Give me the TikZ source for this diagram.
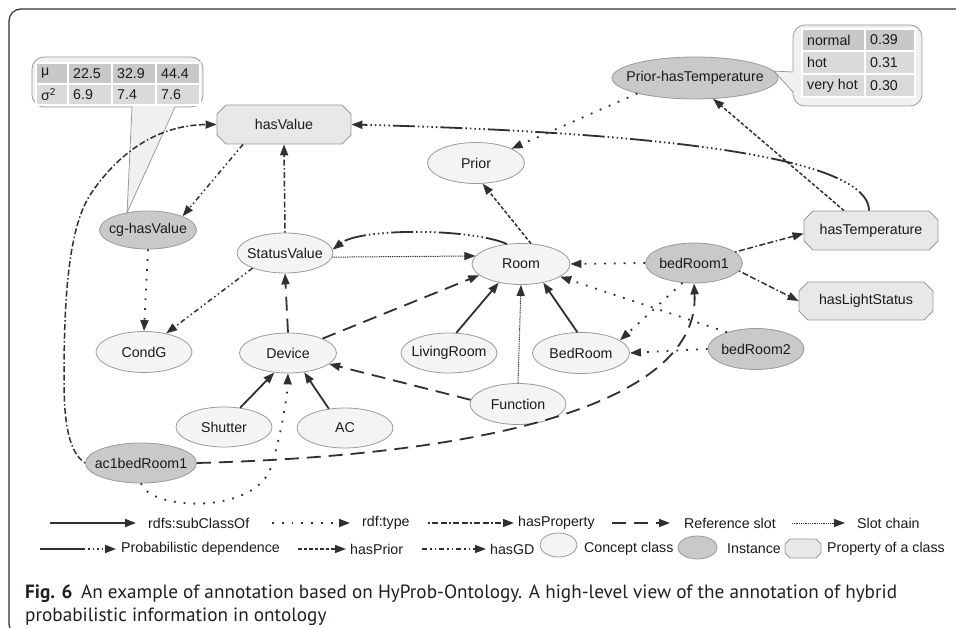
\documentclass[tikz,border=0pt]{standalone}
\usepackage{fontspec}
\setmainfont{Liberation Sans}
\newfontfamily\capfont{PT Sans}
\usetikzlibrary{arrows.meta,shapes.geometric,calc}

\definecolor{concfill}{HTML}{F4F4F4}
\definecolor{instfill}{HTML}{C9C9C9}
\definecolor{propfill}{HTML}{E8E8E8}
\definecolor{nodeborder}{HTML}{9A9A9A}
\definecolor{arrcol}{HTML}{303030}
\definecolor{txtcol}{HTML}{1A1A1A}
\definecolor{tabdark}{HTML}{C8C8C8}
\definecolor{tablight}{HTML}{DADADA}
\definecolor{callfill}{HTML}{F0F0F0}
\definecolor{capcol}{HTML}{231F20}

\newcommand{\zw}[1]{\makebox[0pt]{#1}}
% octagon: name, x, y, width, height, chamfer, text
\newcommand{\octa}[7]{%
  \filldraw[fill=propfill, draw=nodeborder, line width=0.8pt]
    ({#2-#4/2+#6},{#3-#5/2}) -- ({#2+#4/2-#6},{#3-#5/2}) -- ({#2+#4/2},{#3-#5/2+#6})
    -- ({#2+#4/2},{#3+#5/2-#6}) -- ({#2+#4/2-#6},{#3+#5/2}) -- ({#2-#4/2+#6},{#3+#5/2})
    -- ({#2-#4/2},{#3+#5/2-#6}) -- ({#2-#4/2},{#3-#5/2+#6}) -- cycle;
  \node[base, draw=none, rectangle, minimum width=#4pt, minimum height=#5pt] (#1) at (#2,#3) {\zw{#7}};}

\tikzset{
  base/.style={inner sep=0pt, draw=nodeborder, line width=0.8pt, text=txtcol, font=\fontsize{14.2}{16}\selectfont},
  concept/.style={base, ellipse, fill=concfill, minimum width=96pt, minimum height=40pt},
  instance/.style={base, ellipse, fill=instfill, minimum width=96pt, minimum height=40pt},
  tipend/.style={-{Triangle[length=11pt,width=8pt]}},
  edge/.style={tipend, draw=arrcol, fill=none, color=arrcol, line cap=butt},
  subcls/.style={edge, line width=1.8pt},
  rdftype/.style={edge, line width=1.8pt, dash pattern=on 1.8pt off 8pt},
  hasprop/.style={edge, line width=1.5pt, dash pattern=on 1.5pt off 2.5pt on 6pt off 2.5pt on 6pt off 2.5pt},
  refslot/.style={edge, line width=1.8pt, dash pattern=on 14pt off 8pt},
  slotchain/.style={edge, line width=1pt, dash pattern=on 1pt off 0.8pt},
  probdep/.style={edge, line width=1.8pt, dash pattern=on 22pt off 3pt on 1.5pt off 3pt on 1.5pt off 3pt on 1.5pt off 3pt on 1.5pt off 3pt on 1.5pt off 3pt},
  hasprior/.style={edge, line width=1.5pt, dash pattern=on 3.5pt off 2pt},
  hasgd/.style={edge, line width=1.5pt, dash pattern=on 5pt off 3pt on 1.5pt off 3pt on 1.5pt off 3pt},
  legtxt/.style={anchor=west, inner sep=0pt, text=txtcol, font=\fontsize{14.2}{16}\selectfont},
  callout/.style={fill=callfill, draw=nodeborder, line width=0.8pt},
  cell/.style={draw=white, line width=1.2pt},
  celltxt/.style={anchor=west, inner sep=0pt, text=txtcol, font=\fontsize{14.2}{16}\selectfont},
}

\begin{document}
\begin{tikzpicture}[x=1pt,y=-1pt]
\useasboundingbox (0,0) rectangle (956,628);
\fill[white] (0,0) rectangle (956,628);

% outer frame
\draw[draw=arrcol, line width=1.2pt, rounded corners=12pt] (960,9) -- (9,9) -- (9,636) -- (60,636);

% ---------------- nodes ----------------
\octa{hasValue}{284}{124.5}{134}{39}{9}{hasValue}
\node[instance, minimum width=97pt, minimum height=38pt] (cgHasValue) at (148,230) {\zw{cg-hasValue}};
\node[concept] (StatusValue) at (285,253) {\zw{StatusValue}};
\node[concept, minimum width=97pt, minimum height=41pt] (Prior) at (476,163) {\zw{Prior}};
\node[instance, minimum width=166pt, minimum height=42pt] (PriorHasTemp) at (695,78) {\zw{Prior-hasTemperature}};
\octa{hasTemperature}{871}{230.5}{134}{39}{9}{hasTemperature}
\node[concept, minimum width=98pt, minimum height=41pt] (Room) at (521,264) {\zw{Room}};
\node[instance, minimum width=97pt] (bedRoom1) at (694,263) {\zw{bedRoom1}};
\octa{hasLightStatus}{866}{301}{134}{38}{9}{hasLightStatus}
\node[instance, minimum height=41pt] (bedRoom2) at (756,349) {\zw{bedRoom2}};
\node[concept, minimum width=97pt, minimum height=41pt] (BedRoom) at (581,353) {\zw{BedRoom}};
\node[concept] (LivingRoom) at (449,353) {\zw{LivingRoom}};
\node[concept, minimum height=41pt] (Function) at (518,404) {\zw{Function}};
\node[concept, minimum width=97pt] (Device) at (288,353) {\zw{Device}};
\node[concept, minimum height=41pt] (CondG) at (144,352) {\zw{CondG}};
\node[concept] (Shutter) at (224,427) {\zw{Shutter}};
\node[concept] (AC) at (345,428) {\zw{AC}};
\node[instance, minimum width=111pt] (ac1bedRoom1) at (141,463) {\zw{ac1bedRoom1}};

% ---------------- callouts ----------------
\filldraw[callout, rounded corners=12pt] (32,57) rectangle (203,107);
\fill[callfill] (132.6,106) -- (cgHasValue.140) -- (174.6,106) -- cycle;
\draw[nodeborder, line width=0.8pt] (132,107) -- (cgHasValue.140) -- (175,107);
\fill[tabdark] (36,63) rectangle (200,84);
\fill[tablight] (36,84) rectangle (200,105);
\draw[cell] (36,63) rectangle (200,105);
\draw[cell] (36,84) -- (200,84);
\draw[cell] (68,63) -- (68,105);
\draw[cell] (112,63) -- (112,105);
\draw[cell] (156,63) -- (156,105);
\node[celltxt] (m0) at (41,73.5) {μ};
\node[celltxt] (m1) at (73,73.5) {22.5};
\node[celltxt] (m2) at (117,73.5) {32.9};
\node[celltxt] (m3) at (161,73.5) {44.4};
\node[celltxt] (v0) at (41,94.5) {σ\textsuperscript{2}};
\node[celltxt] (v1) at (73,94.5) {6.9};
\node[celltxt] (v2) at (117,94.5) {7.4};
\node[celltxt] (v3) at (161,94.5) {7.6};

\filldraw[callout, rounded corners=12pt] (793,25) rectangle (922,106);
\fill[callfill] (794.5,72) -- (PriorHasTemp.5) -- (794.5,92) -- cycle;
\draw[nodeborder, line width=0.8pt] (793,72) -- (PriorHasTemp.5) -- (793,92);
\fill[tabdark] (802,29) rectangle (915,51);
\fill[tablight] (802,51) rectangle (915,97);
\draw[cell] (802,29) rectangle (915,97);
\draw[cell] (802,51) -- (915,51);
\draw[cell] (802,74) -- (915,74);
\draw[cell] (865,29) -- (865,97);
\node[celltxt] (p1) at (807,40) {normal};
\node[celltxt] (p2) at (870,40) {0.39};
\node[celltxt] (p3) at (807,62.5) {hot};
\node[celltxt] (p4) at (870,62.5) {0.31};
\node[celltxt] (p5) at (807,85.5) {very hot};
\node[celltxt] (p6) at (870,85.5) {0.30};

% ---------------- connectors ----------------
\draw[hasprop] (StatusValue.north) -- (hasValue.south);
\draw[hasgd] ([xshift=-41pt]hasValue.south) -- (cgHasValue.north east);
\draw[refslot] (Device.north) -- (StatusValue.south);
\draw[refslot] (Device.north east) -- (Room.195);
\draw[refslot] (Function.175) -- (Device.345);
\draw[slotchain] (Function.north) -- (Room.south);
\draw[slotchain] (StatusValue.355) -- (Room.170);
\draw[probdep] (Room.125) .. controls (470,228) and (360,228) .. (StatusValue.4);
\draw[hasprior] (Room.64) -- (Prior.-72);
\draw[rdftype] (PriorHasTemp.195) -- (Prior.22);
\draw[hasprior] ([xshift=-27pt]hasTemperature.north) -- (PriorHasTemp.-49);
\draw[probdep] ([xshift=-2pt]hasTemperature.north) .. controls (869,172) and (760,135) .. (hasValue.east);
\draw[rdftype] (bedRoom1.west) -- (Room.east);
\draw[hasprop] (bedRoom1.15) -- ([yshift=-3pt]hasTemperature.west);
\draw[hasprop] (bedRoom1.-10) -- (hasLightStatus.west);
\draw[rdftype] (bedRoom1.-120) -- (BedRoom.18);
\draw[rdftype] (bedRoom2.west) -- (BedRoom.east);
\draw[rdftype] (bedRoom2.150) -- (Room.-18);
\draw[subcls] (LivingRoom.70) -- (Room.-140);
\draw[subcls] (BedRoom.100) -- (Room.-40);
\draw[subcls] (Shutter.50) -- (Device.-125);
\draw[subcls] (AC.130) -- (Device.-50);
\draw[rdftype] (cgHasValue.south) -- (CondG.north);
\draw[hasgd] (StatusValue.-155) -- (CondG.40);
\draw[hasprop] (ac1bedRoom1.west) .. controls (68,452) and (64,420) .. (64,380)
   .. controls (64,300) and (68,230) .. (90,195)
   .. controls (120,150) and (160,125) .. (hasValue.west);
\draw[rdftype] (ac1bedRoom1.south) .. controls (150,510) and (250,515) .. (270,470)
   .. controls (280,440) and (287,400) .. (Device.south);
\draw[refslot] (ac1bedRoom1.east) .. controls (500,455) and (700,400) .. (bedRoom1.south);

% ---------------- legend ----------------
\coordinate (a1) at (50,523);  \coordinate (b1) at (136,523);
\draw[subcls] (a1) -- (b1);
\node[legtxt] (l1) at (148,523) {rdfs:subClassOf};
\coordinate (a2) at (272,523); \coordinate (b2) at (350,523);
\draw[rdftype] (a2) -- (b2);
\node[legtxt] (l2) at (362,523) {rdf:type};
\coordinate (a3) at (428,523); \coordinate (b3) at (514,523);
\draw[hasprop] (a3) -- (b3);
\node[legtxt] (l3) at (518,523) {hasProperty};
\coordinate (a4) at (612,523); \coordinate (b4) at (670,523);
\draw[refslot] (a4) -- (b4);
\node[legtxt] (l4) at (684,523) {Reference slot};
\coordinate (a5) at (792,523); \coordinate (b5) at (845,523);
\draw[slotchain] (a5) -- (b5);
\node[legtxt] (l5) at (857,523) {Slot chain};

\coordinate (a6) at (40,549);  \coordinate (b6) at (116,549);
\draw[probdep, dash pattern=on 45pt off 3pt on 1.5pt off 3pt on 1.5pt off 3pt on 1.5pt off 3pt on 1.5pt off 30pt] (a6) -- (b6);
\node[legtxt] (l6) at (121,549) {Probabilistic dependence};
\coordinate (a7) at (298,549); \coordinate (b7) at (346,549);
\draw[hasprior] (a7) -- (b7);
\node[legtxt] (l7) at (350,549) {hasPrior};
\coordinate (a8) at (422,549); \coordinate (b8) at (486,549);
\draw[hasgd] (a8) -- (b8);
\node[legtxt] (l8) at (490,549) {hasGD};
\node[concept, minimum width=37pt, minimum height=24pt] (k1) at (558.5,545) {};
\node[legtxt] (l9) at (584,549) {Concept class};
\node[instance, minimum width=39pt, minimum height=23pt] (k2) at (697.5,547.5) {};
\node[legtxt] (l10) at (727,549) {Instance};
\octa{k3}{803}{548.5}{36}{19}{5}{}
\node[legtxt] (l11) at (827,549) {Property of a class};

% ---------------- caption ----------------
\node[anchor=base west, inner sep=0pt, text=capcol, font=\capfont\fontsize{19.2}{23}\selectfont] (cap1) at (25,598)
  {\textbf{Fig. 6}\hspace{0.45em}An example of annotation based on HyProb-Ontology. A high-level view of the annotation of hybrid};
\node[anchor=base west, inner sep=0pt, text=capcol, font=\capfont\fontsize{19.2}{23}\selectfont] (cap2) at (25,621)
  {probabilistic information in ontology};
\end{tikzpicture}
\end{document}
